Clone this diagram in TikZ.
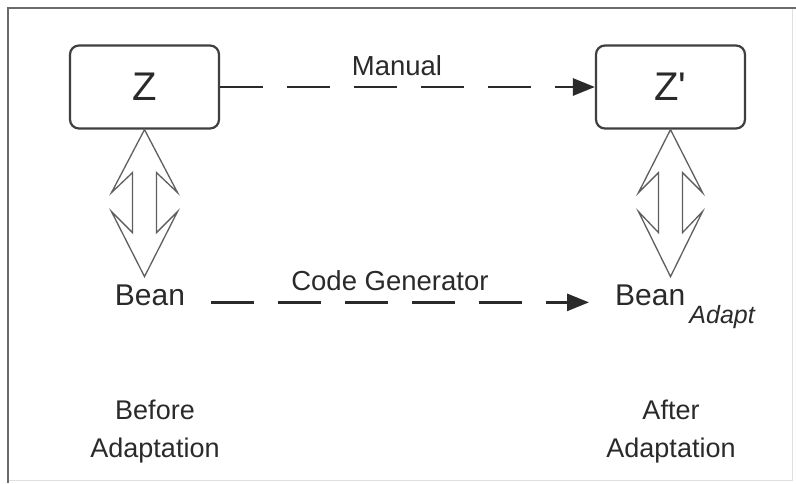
\documentclass[tikz,border=0pt]{standalone}
\usepackage{fontspec}
\setmainfont{Liberation Sans}
\usetikzlibrary{arrows.meta}
\definecolor{ink}{HTML}{2A2A2A}
\definecolor{framec}{HTML}{6A6A6A}
\tikzset{
  zbox/.style={draw=ink!90, line width=2.2pt, rounded corners=9pt, minimum width=149pt, minimum height=83pt, inner sep=0pt, text=ink, font=\fontsize{40}{40}\selectfont},
  beantxt/.style={inner xsep=26pt, inner ysep=0pt, text=ink, font=\fontsize{30}{30}\selectfont},
  lbl/.style={text=ink, font=\fontsize{27.5}{27.5}\selectfont, inner sep=0pt},
  captxt/.style={text=ink, align=center, inner sep=0pt, font=\fontsize{27}{38}\selectfont},
  dashconn/.style={draw=ink, line width=2.8pt, dash pattern=on 43pt off 24pt, -{Triangle[length=22pt,width=17pt]}},
  dblarrow/.style={draw=ink!75, line width=1.3pt, line join=miter}
}
\begin{document}
\begin{tikzpicture}[x=1pt,y=-1pt]
\useasboundingbox (0,0) rectangle (796,483);
\fill[white] (0,0) rectangle (796,483);
% frame
\draw[framec, line width=2.5pt] (8,483) -- (8,8) -- (796,8);
\draw[black!12, line width=1pt] (792,9) -- (792,480) -- (9,480);
% nodes
\node[zbox] (Z) at (144.5,87) {Z};
\node[zbox] (Zp) at (670.5,87) {Z\textquotesingle};
\node[beantxt, anchor=base] (beanL) at (150,305) {Bean};
\node[beantxt, anchor=base west] (beanR) at (589,305) {Bean\raisebox{-18pt}{\fontsize{25}{25}\selectfont\itshape\,Adapt}};
\node[captxt] (before) at (155,432) {Before\\Adaptation};
\node[captxt] (after) at (671,432) {After\\Adaptation};
% connectors
\draw[dashconn] (Z.east) -- node[lbl, pos=0.472, anchor=base, yshift=12pt] (manual) {Manual} (Zp.west);
\draw[dashconn] (beanL.mid east) -- node[lbl, pos=0.473, anchor=base, yshift=12pt] (codegen) {Code Generator} (beanR.mid west);
% double arrows
\draw[dblarrow] (Z.south) -- ++(33,63) -- ++(-21,-20) -- ++(0,60) -- ++(21,-21) -- ++(-33,65) -- ++(-33,-65) -- ++(21,21) -- ++(0,-60) -- ++(-21,20) -- cycle;
\draw[dblarrow] (Zp.south) -- ++(32,63) -- ++(-20,-20) -- ++(0,60) -- ++(20,-21) -- ++(-32,65) -- ++(-32,-65) -- ++(20,21) -- ++(0,-60) -- ++(-20,20) -- cycle;
\end{tikzpicture}
\end{document}
